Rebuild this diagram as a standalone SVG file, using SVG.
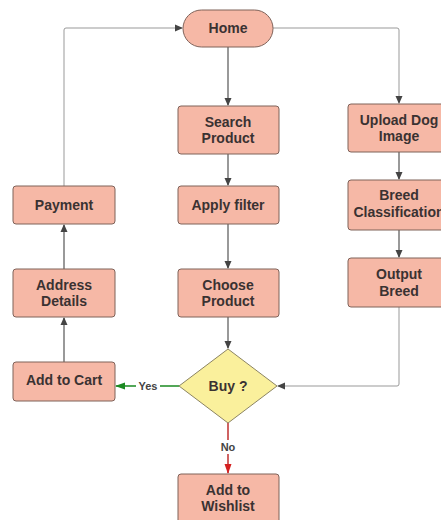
<svg xmlns="http://www.w3.org/2000/svg" width="441" height="520" viewBox="0 0 441 520">
<defs>
<style>
.n{fill:#f6b8a6;stroke:#7f6259;stroke-width:1}
.d{fill:#faf09c;stroke:#8c8462;stroke-width:1}
.t{font-family:"Liberation Sans",Arial,sans-serif;font-weight:bold;font-size:14px;fill:#3a3232;text-anchor:middle}
.l{font-family:"Liberation Sans",Arial,sans-serif;font-weight:bold;font-size:11px;fill:#444;text-anchor:middle}
.c{fill:none;stroke:#555;stroke-width:1.2}
.g{fill:none;stroke:#999;stroke-width:1}
</style>
<marker id="a" markerWidth="8" markerHeight="8" refX="7" refY="4" orient="auto" markerUnits="userSpaceOnUse"><path d="M0,0.5 L8,4 L0,7.5 Z" fill="#444"/></marker>
<marker id="ag" markerWidth="10" markerHeight="8" refX="9" refY="4" orient="auto" markerUnits="userSpaceOnUse"><path d="M0,0.5 L10,4 L0,7.5 Z" fill="#1b8a22"/></marker>
<marker id="ar" markerWidth="10" markerHeight="8" refX="9" refY="4" orient="auto" markerUnits="userSpaceOnUse"><path d="M0,0.5 L10,4 L0,7.5 Z" fill="#d42020"/></marker>
</defs>
<rect width="441" height="520" fill="#fff"/>
<g id="connectors">
<path class="c" d="M228,47 V105" marker-end="url(#a)"/>
<path class="c" d="M228,154 V185" marker-end="url(#a)"/>
<path class="c" d="M228,224 V268" marker-end="url(#a)"/>
<path class="c" d="M228,317 V348" marker-end="url(#a)"/>
<path class="g" d="M273,28 H397 Q399,28 399,30 V103" marker-end="url(#a)"/>
<path class="c" d="M399,152 V179" marker-end="url(#a)"/>
<path class="c" d="M399,230 V257" marker-end="url(#a)"/>
<path class="g" d="M399,307 V384 Q399,386 397,386 H278" marker-end="url(#a)"/>
<path class="c" d="M64,362 V318" marker-end="url(#a)"/>
<path class="c" d="M64,269 V225" marker-end="url(#a)"/>
<path class="g" d="M64,186 V30 Q64,28 66,28 H182" marker-end="url(#a)"/>
<path d="M179,386 H160 M136,386 H116" fill="none" stroke="#1b8a22" stroke-width="1.5" marker-end="url(#ag)"/>
<path d="M228,423 V440 M228,454 V473" fill="none" stroke="#c03030" stroke-width="1.5" marker-end="url(#ar)"/>
<text class="l" x="148" y="390">Yes</text>
<text class="l" x="228" y="451">No</text>
</g>
<g id="home"><rect class="n" x="183" y="10" width="90" height="37" rx="18.5"/><text class="t" x="228" y="33">Home</text></g>
<g id="search"><rect class="n" x="178" y="106" width="101" height="48" rx="3"/><text class="t" x="228" y="127">Search</text><text class="t" x="228" y="143">Product</text></g>
<g id="upload"><rect class="n" x="348" y="104" width="101" height="48" rx="3"/><text class="t" x="399" y="125">Upload Dog</text><text class="t" x="399" y="141">Image</text></g>
<g id="payment"><rect class="n" x="13" y="186" width="102" height="38" rx="3"/><text class="t" x="64" y="210">Payment</text></g>
<g id="filter"><rect class="n" x="178" y="186" width="101" height="38" rx="3"/><text class="t" x="228" y="210">Apply filter</text></g>
<g id="breed"><rect class="n" x="348" y="180" width="101" height="50" rx="3"/><text class="t" x="399" y="200">Breed</text><text class="t" x="399" y="217">Classification</text></g>
<g id="address"><rect class="n" x="13" y="269" width="102" height="48" rx="3"/><text class="t" x="64" y="290">Address</text><text class="t" x="64" y="306">Details</text></g>
<g id="choose"><rect class="n" x="178" y="269" width="101" height="48" rx="3"/><text class="t" x="228" y="290">Choose</text><text class="t" x="228" y="306">Product</text></g>
<g id="output"><rect class="n" x="348" y="258" width="101" height="49" rx="3"/><text class="t" x="399" y="279">Output</text><text class="t" x="399" y="296">Breed</text></g>
<g id="cart"><rect class="n" x="13" y="362" width="102" height="39" rx="3"/><text class="t" x="64" y="385">Add to Cart</text></g>
<g id="buy"><path class="d" d="M228,349 L277,386 L228,423 L179,386 Z"/><text class="t" x="228" y="391">Buy ?</text></g>
<g id="wishlist"><rect class="n" x="178" y="474" width="101" height="50" rx="3"/><text class="t" x="228" y="495">Add to</text><text class="t" x="228" y="511">Wishlist</text></g>
</svg>
